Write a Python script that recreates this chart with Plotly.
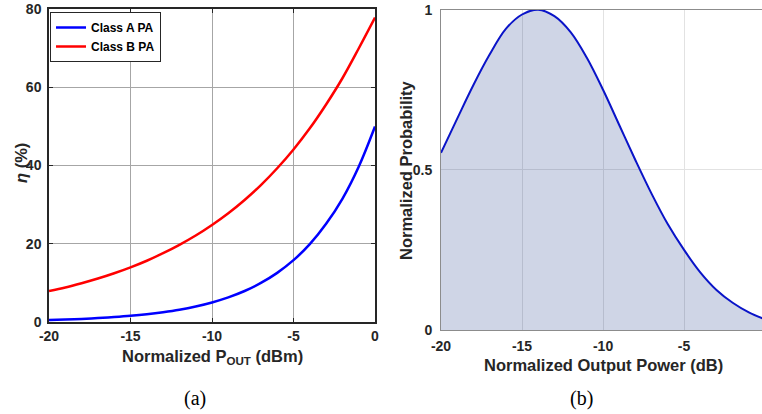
import plotly.graph_objects as go

# ---- data ----
p_out = [-20, -19, -18, -17, -16, -15, -14, -13, -12, -11, -10,
         -9, -8, -7, -6, -5, -4, -3, -2, -1, 0]
eff_class_a = [0.5, 0.63, 0.79, 1.0, 1.26, 1.58, 1.99, 2.51, 3.15, 3.97, 5.0,
               6.29, 7.92, 9.98, 12.56, 15.8, 19.9, 25.1, 31.5, 39.7, 50.0]
eff_class_b = [7.9, 8.8, 9.9, 11.1, 12.45, 13.96, 15.66, 17.58, 19.72, 22.1, 24.8,
               27.8, 31.2, 35.0, 39.3, 44.1, 49.5, 55.6, 62.3, 69.9, 77.8]
pdf_x = [-20, -19, -18, -17, -16, -15, -14, -13, -12, -11, -10,
         -9, -8, -7, -6, -5, -4, -3, -2, -1, 0]
pdf_y = [0.553, 0.66, 0.765, 0.86, 0.94, 0.985, 1.0, 0.98, 0.93, 0.85, 0.75,
         0.64, 0.53, 0.425, 0.33, 0.25, 0.18, 0.125, 0.085, 0.055, 0.033]
left_xticks = [-20, -15, -10, -5, 0]
left_xlabels = ["-20", "-15", "-10", "-5", "0"]
left_yticks = [0, 20, 40, 60, 80]
left_ylabels = ["0", "20", "40", "60", "80"]
right_xticks = [-20, -15, -10, -5]
right_xlabels = ["-20", "-15", "-10", "-5"]
right_yticks = [0, 0.5, 1]
right_ylabels = ["0", "0.5", "1"]

W, H = 762, 414
def px(x): return x / W
def py(y): return 1 - y / H

TXT = "#262626"
BOLD = dict(family="Liberation Sans, Arial", size=14, color=TXT, weight="bold")

fig = go.Figure()
fig.add_trace(go.Scatter(x=p_out, y=eff_class_a, mode="lines", name="Class A PA",
                         line=dict(color="#0000ff", width=2.5, shape="spline"),
                         xaxis="x", yaxis="y"))
fig.add_trace(go.Scatter(x=p_out, y=eff_class_b, mode="lines", name="Class B PA",
                         line=dict(color="#ff0000", width=2.5, shape="spline"),
                         xaxis="x", yaxis="y"))
fig.add_trace(go.Scatter(x=pdf_x, y=pdf_y, mode="lines", showlegend=False,
                         fill="tozeroy", fillcolor="rgba(15,45,130,0.2)",
                         line=dict(color="#0a14c8", width=2, shape="spline"),
                         xaxis="x2", yaxis="y2"))

fig.update_layout(
    template="none",
    width=W, height=H, margin=dict(l=0, r=0, t=0, b=0, autoexpand=False),
    paper_bgcolor="white", plot_bgcolor="white",
    showlegend=True,
    legend=dict(x=px(50), y=py(12), xanchor="left", yanchor="top",
                xref="paper", yref="paper",
                bgcolor="white", bordercolor="#262626", borderwidth=1,
                font=dict(family="Liberation Sans, Arial", size=12, color="black", weight="bold"),
                itemwidth=30, tracegroupgap=0),
    xaxis=dict(domain=[px(49), px(375)], range=[-20, 0],
               tickmode="array", tickvals=left_xticks, ticktext=left_xlabels,
               ticks="inside", ticklen=4, tickcolor="#262626", automargin=False,
               showgrid=True, gridcolor="#a6a6a6", gridwidth=1, zeroline=False,
               showline=True, linecolor="#262626", linewidth=1.5, mirror="ticks",
               tickfont=BOLD, anchor="y", ticklabelstandoff=0),
    yaxis=dict(domain=[py(322), py(9)], range=[0, 80],
               tickmode="array", tickvals=left_yticks, ticktext=left_ylabels,
               ticks="inside", ticklen=4, tickcolor="#262626", automargin=False,
               showgrid=True, gridcolor="#a6a6a6", gridwidth=1, zeroline=False,
               showline=True, linecolor="#262626", linewidth=1.5, mirror="ticks",
               tickfont=BOLD, anchor="x", ticklabelstandoff=3),
    xaxis2=dict(domain=[px(441), 1.0], range=[-20, -0.19],
                tickmode="array", tickvals=right_xticks, ticktext=right_xlabels,
                ticks="", showgrid=True, gridcolor="#e2e2e2", gridwidth=1, zeroline=False,
                showline=True, linecolor="#8c8c8c", linewidth=1, mirror=True, automargin=False,
                tickfont=BOLD, anchor="y2", ticklabelstandoff=3),
    yaxis2=dict(domain=[py(330), py(9.7)], range=[0, 1],
                tickmode="array", tickvals=right_yticks, ticktext=right_ylabels,
                ticks="", showgrid=True, gridcolor="#e2e2e2", gridwidth=1, zeroline=False,
                showline=True, linecolor="#8c8c8c", linewidth=1, mirror=False, automargin=False,
                tickfont=BOLD, anchor="x2", ticklabelstandoff=5),
)

TITLE = dict(family="Liberation Sans, Arial", size=16.5, color=TXT, weight="bold")
SERIF = dict(family="Liberation Serif, Times New Roman", size=20, color="black")
ann = [
    dict(x=px(212), y=py(357), text="Normalized P<sub>OUT</sub> (dBm)", font=TITLE),
    dict(x=px(21), y=py(163), text="<i>η</i> (%)", textangle=-90, font=TITLE),
    dict(x=px(603), y=py(365), text="Normalized Output Power (dB)", font=TITLE),
    dict(x=px(406), y=py(170), text="Normalized Probability", textangle=-90, font=TITLE),
    dict(x=px(195), y=py(398), text="(a)", font=SERIF),
    dict(x=px(581), y=py(398), text="(b)", font=SERIF),
]
for a in ann:
    a.update(xref="paper", yref="paper", showarrow=False, xanchor="center", yanchor="middle")
fig.update_layout(annotations=ann)

fig.write_html("out.html")
